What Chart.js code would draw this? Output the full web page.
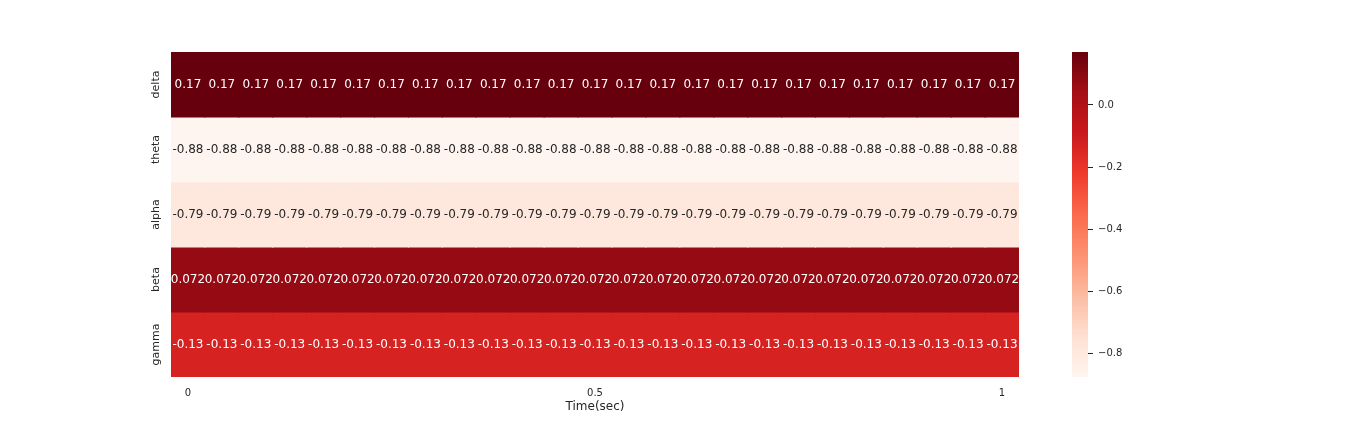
<!DOCTYPE html>
<html>
<head>
<meta charset="utf-8">
<style>
  body { margin: 0; background: #fff; }
  #wrap { position: relative; width: 1368px; height: 432px; }
  #heat { position: absolute; left: 0; top: 0; }
  #bar { position: absolute; left: 1060px; top: 0; }
</style>
</head>
<body>
<div id="wrap">
  <canvas id="heat" width="1368" height="432"></canvas>
  <canvas id="bar" width="100" height="432"></canvas>
</div>
<script src="https://cdn.jsdelivr.net/npm/chart.js@4.4.0/dist/chart.umd.min.js"></script>
<script>
// rows of the heatmap, top to bottom
const bands = ['delta', 'theta', 'alpha', 'beta', 'gamma'];

// 25 time steps, labelled only at 0, 0.5 and 1
const timeSteps = ['t0','t1','t2','t3','t4','t5','t6','t7','t8','t9','t10','t11','t12',
                   't13','t14','t15','t16','t17','t18','t19','t20','t21','t22','t23','t24'];
const xTickIndex = [0, 12, 24];
const xTickText = ['0', '0.5', '1'];

const delta = [0.1704,0.1704,0.1704,0.1704,0.1704,0.1704,0.1704,0.1704,0.1704,0.1704,0.1704,0.1704,0.1704,
               0.1704,0.1704,0.1704,0.1704,0.1704,0.1704,0.1704,0.1704,0.1704,0.1704,0.1704,0.1704];
const theta = [-0.876,-0.876,-0.876,-0.876,-0.876,-0.876,-0.876,-0.876,-0.876,-0.876,-0.876,-0.876,-0.876,
               -0.876,-0.876,-0.876,-0.876,-0.876,-0.876,-0.876,-0.876,-0.876,-0.876,-0.876,-0.876];
const alpha = [-0.79,-0.79,-0.79,-0.79,-0.79,-0.79,-0.79,-0.79,-0.79,-0.79,-0.79,-0.79,-0.79,
               -0.79,-0.79,-0.79,-0.79,-0.79,-0.79,-0.79,-0.79,-0.79,-0.79,-0.79,-0.79];
const beta  = [0.072,0.072,0.072,0.072,0.072,0.072,0.072,0.072,0.072,0.072,0.072,0.072,0.072,
               0.072,0.072,0.072,0.072,0.072,0.072,0.072,0.072,0.072,0.072,0.072,0.072];
const gamma = [-0.13,-0.13,-0.13,-0.13,-0.13,-0.13,-0.13,-0.13,-0.13,-0.13,-0.13,-0.13,-0.13,
               -0.13,-0.13,-0.13,-0.13,-0.13,-0.13,-0.13,-0.13,-0.13,-0.13,-0.13,-0.13];
const cells = [delta, theta, alpha, beta, gamma];

const vmin = -0.876;
const vmax = 0.1704;
const colorbarTicks = [-0.8, -0.6, -0.4, -0.2, 0.0];

// matplotlib "Reds"
const redsStops = ['#fff5f0','#fee0d2','#fcbba1','#fc9272','#fb6a4a','#ef3b2c','#cb181d','#a50f15','#67000d'];

function hexRgb(h) {
    return [parseInt(h.slice(1,3),16), parseInt(h.slice(3,5),16), parseInt(h.slice(5,7),16)];
}
function redsRgb(v) {
    let t = (v - vmin) / (vmax - vmin);
    t = Math.max(0, Math.min(1, t));
    const f = t * (redsStops.length - 1);
    const i = Math.min(Math.floor(f), redsStops.length - 2);
    const a = hexRgb(redsStops[i]), b = hexRgb(redsStops[i+1]);
    const k = f - i;
    return a.map((c, j) => Math.round(c + (b[j] - c) * k));
}
function redsColor(v) {
    const c = redsRgb(v);
    return 'rgb(' + c.join(',') + ')';
}
function textColor(v) {
    const c = redsRgb(v).map(x => {
        x = x / 255;
        return x <= 0.03928 ? x / 12.92 : Math.pow((x + 0.055) / 1.055, 2.4);
    });
    const lum = 0.2126*c[0] + 0.7152*c[1] + 0.0722*c[2];
    return lum > 0.408 ? '#262626' : '#ffffff';
}

const FONT = 'DejaVu Sans';
const INK = '#262626';

// cell annotations + rotated row names
const annotate = {
    id: 'annotate',
    afterDatasetsDraw(chart) {
        const {ctx} = chart;
        ctx.save();
        ctx.font = '12px "' + FONT + '"';
        ctx.textAlign = 'center';
        ctx.textBaseline = 'middle';
        chart.data.datasets.forEach((ds, r) => {
            chart.getDatasetMeta(r).data.forEach((el, c) => {
                const v = cells[r][c];
                ctx.fillStyle = textColor(v);
                ctx.fillText(parseFloat(v.toPrecision(2)).toString(), el.x, (el.y + el.base) / 2 + 0.5);
            });
        });
        const y = chart.scales.y;
        ctx.font = '11px "' + FONT + '"';
        ctx.fillStyle = INK;
        bands.forEach((name, r) => {
            ctx.save();
            ctx.translate(156, y.getPixelForValue(r));
            ctx.rotate(-Math.PI / 2);
            ctx.fillText(name, 0, 0);
            ctx.restore();
        });
        ctx.restore();
    }
};

new Chart(document.getElementById('heat'), {
    type: 'bar',
    plugins: [annotate],
    data: {
        labels: timeSteps,
        datasets: bands.map((name, r) => ({
            label: name,
            data: cells[r].map(() => [r - 0.5, r + 0.5]),
            backgroundColor: cells[r].map(v => redsColor(v)),
            borderWidth: 0,
            inflateAmount: 0.6,
            barPercentage: 1,
            categoryPercentage: 1
        }))
    },
    options: {
        responsive: false,
        animation: false,
        layout: { padding: { left: 171, right: 349, top: 52, bottom: 0 } },
        plugins: { legend: { display: false }, tooltip: { enabled: false } },
        scales: {
            x: {
                stacked: true,
                grid: { display: false, drawTicks: false },
                border: { display: false },
                ticks: {
                    autoSkip: false,
                    maxRotation: 0,
                    padding: 10,
                    color: INK,
                    font: { family: FONT, size: 10 },
                    callback: (val, idx) => {
                        const k = xTickIndex.indexOf(idx);
                        return k >= 0 ? xTickText[k] : '';
                    }
                },
                title: {
                    display: true,
                    text: 'Time(sec)',
                    color: INK,
                    font: { family: FONT, size: 12 },
                    padding: { top: 18, bottom: 18 }
                },
                afterFit: s => { s.height = 55; }
            },
            y: {
                type: 'linear',
                min: -0.5,
                max: 4.5,
                reverse: true,
                display: false
            }
        }
    }
});

// colorbar
const gradient = {
    id: 'gradient',
    beforeDatasetsDraw(chart) {
        const {ctx, chartArea: a} = chart;
        const y = chart.scales.y;
        ctx.save();
        for (let p = Math.floor(a.top); p < Math.ceil(a.bottom); p++) {
            ctx.fillStyle = redsColor(y.getValueForPixel(p + 0.5));
            ctx.fillRect(a.left, p, a.right - a.left, 1);
        }
        ctx.restore();
    }
};

new Chart(document.getElementById('bar'), {
    type: 'bar',
    plugins: [gradient],
    data: { labels: [''], datasets: [{ data: [null] }] },
    options: {
        responsive: false,
        animation: false,
        layout: { padding: { left: 12, right: 0, top: 52, bottom: 55 } },
        plugins: { legend: { display: false }, tooltip: { enabled: false } },
        scales: {
            x: { display: false },
            y: {
                position: 'right',
                min: vmin,
                max: vmax,
                afterBuildTicks: s => { s.ticks = colorbarTicks.map(v => ({ value: v })); },
                afterFit: s => { s.width = 72; },
                grid: { drawOnChartArea: false, drawTicks: true, tickLength: 5, color: INK },
                border: { display: false },
                ticks: {
                    padding: 5,
                    color: INK,
                    font: { family: FONT, size: 10 },
                    callback: v => (v < 0 ? '\u2212' : '') + Math.abs(v).toFixed(1)
                }
            }
        }
    }
});
</script>
</body>
</html>
